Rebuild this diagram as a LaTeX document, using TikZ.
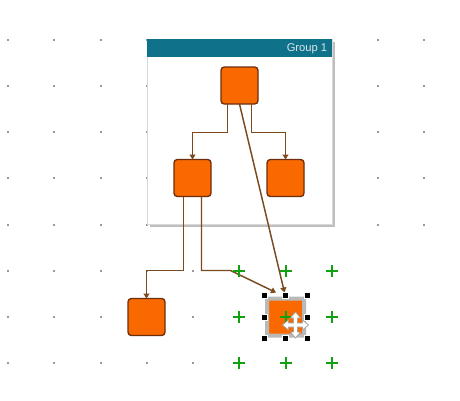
\documentclass[tikz,border=0pt]{standalone}
\usepackage{fontspec}
\setmainfont{Liberation Sans}
\usetikzlibrary{arrows.meta,calc}
\definecolor{orangefill}{HTML}{FA6800}
\definecolor{boxstroke}{HTML}{6D2E0B}
\definecolor{edgec}{HTML}{7B4A1E}
\definecolor{teal1}{HTML}{10728A}
\definecolor{hdrtext}{HTML}{DDE6EA}
\definecolor{dotc}{HTML}{999999}
\definecolor{crossc}{HTML}{10A010}
\tikzset{
  box/.style={draw=boxstroke, fill=orangefill, rounded corners=2.5pt,
    minimum size=27.75pt, inner sep=0pt, outer sep=0pt, line width=1pt},
  conn/.style={draw=edgec, line width=1.1pt, -{Triangle[length=3.75pt,width=4.5pt]}},
  handle/.style={fill=black, draw=white, line width=0.4pt, minimum size=4.8pt, inner sep=0pt},
  gridcross/.style={fill=crossc},
}
\begin{document}
\begin{tikzpicture}[x=0.75pt,y=-0.75pt]
\useasboundingbox (0,0) rectangle (460,400);
\fill[white] (0,0) rectangle (460,400);
% grid dots
\foreach \i in {0,...,9}{
  \foreach \j in {0,...,7}{
    \pgfmathsetmacro\gx{round(8+46.25*\i)}
    \pgfmathsetmacro\gy{round(39.5+46.25*\j)}
    \ifnum\i>4 \ifnum\j>4 \else \fill[dotc] (\gx-1,\gy-1) rectangle (\gx+1,\gy+1);\fi
    \else \fill[dotc] (\gx-1,\gy-1) rectangle (\gx+1,\gy+1);\fi
  }
}
% group
\fill[black!25] (149.5,41.5) rectangle (334.5,226.5);
\fill[white,draw=gray!30,line width=0.75pt] (147,39) rectangle (332,224);
\fill[teal1] (147,39) rectangle (332,57);
\node[anchor=east, text=hdrtext, inner sep=0pt, font=\fontsize{8.4}{10}\selectfont] (hdr) at (327.5,48.5) {Group 1};
% nodes
\node[box] (t) at (239.5,85.5) {};
\node[box] (l) at (192.5,178) {};
\node[box] (r) at (285.5,178) {};
\node[box] (bl) at (146.5,317) {};
\node[box] (s) at (285.5,317) {};
% connector end points (under selection handles)
\coordinate (s1) at ($(s.north)+(-9.5,-6)$);
\coordinate (s2) at ($(s.north)+(-1,-6)$);
% connectors
\draw[conn] ($(t.south)+(-12,0)$) -- ++(0,28.5) -| (l.north);
\draw[conn] ($(t.south)+(12,0)$) -- ++(0,28.5) -| (r.north);
\draw[conn] (t.south) -- (s2);
\draw[conn] ($(l.south)+(-9,0)$) -- ++(0,74) -| (bl.north);
\draw[conn] ($(l.south)+(9,0)$) -- ++(0,74) -- ++(29,0) -- (s1);
% selection hatch band
\fill[gray!55, even odd rule] (265,296.5) rectangle (306,337.5) (269,300.5) rectangle (302,333.5);
% green grid crosses
\foreach \i in {5,6,7}{
  \foreach \j in {5,6,7}{
    \pgfmathsetmacro\gx{round(8+46.25*\i)}
    \pgfmathsetmacro\gy{round(39.5+46.25*\j)}
    \fill[gridcross] (\gx-6,\gy-0.75) rectangle (\gx+6,\gy+0.75);
    \fill[gridcross] (\gx-0.75,\gy-6) rectangle (\gx+0.75,\gy+6);
  }
}
% handles
\foreach \hx/\hy in {-21.5/-21.5, 0/-21.5, 21.5/-21.5, -21.5/0, 21.5/0, -21.5/21.5, 0/21.5, 21.5/21.5}{
  \node[handle] at ($(s.center)+(\hx,\hy)$) {};
}
% move cursor
\begin{scope}[shift={(295.5,325)}]
\filldraw[fill=white, draw=gray!70, line width=0.6pt, line join=round]
  (0,-13) -- (5,-7) -- (2,-7) -- (2,-2) -- (7,-2) -- (7,-5) -- (13,0) -- (7,5) -- (7,2) -- (2,2)
  -- (2,7) -- (5,7) -- (0,13) -- (-5,7) -- (-2,7) -- (-2,2) -- (-7,2) -- (-7,5) -- (-13,0)
  -- (-7,-5) -- (-7,-2) -- (-2,-2) -- (-2,-7) -- (-5,-7) -- cycle;
\end{scope}
\end{tikzpicture}
\end{document}
